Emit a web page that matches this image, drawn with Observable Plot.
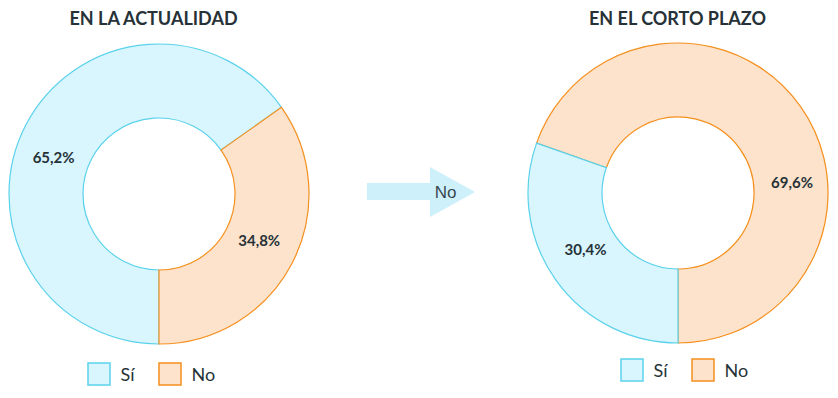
<!DOCTYPE html>
<html><head><meta charset="utf-8">
<script src="https://cdn.jsdelivr.net/npm/d3@7"></script>
<script src="https://cdn.jsdelivr.net/npm/@observablehq/plot@0.6"></script>
<style>body{margin:0;background:#fff}</style>
</head><body><div id="chart"></div>
<script>
// ---- data ----
const categories = ["Sí", "No"];
const titles = ["EN LA ACTUALIDAD", "EN EL CORTO PLAZO"];
const actualValues = [65.2, 34.8];
const cortoValues = [30.4, 69.6];
const arrowLabel = "No";

// ---- styles ----
const fillScale = Plot.scale({color: {type: "ordinal", domain: categories, range: ["#d9f5fd", "#fde3cb"]}});
const strokeScale = Plot.scale({color: {type: "ordinal", domain: categories, range: ["#5ad2ec", "#f5901f"]}});
const textColor = "#263238";

// ---- layout ----
const W = 838, H = 398, R_OUT = 150, R_IN = 76;
const charts = [
  {title: titles[0], values: actualValues, cx: 159, cy: 194, titleX: 153, legendX: 88, legendY: 363,
   labels: [[289, 112], [115, 110]]},
  {title: titles[1], values: cortoValues, cx: 678, cy: 193, titleX: 677, legendX: 621, legendY: 359,
   labels: [[238.5, 109], [85, 114]]}
];
const fmt = v => v.toFixed(1).replace(".", ",") + "%";

function donut(chart) {
  return (index, scales) => {
    const cx = scales.x(chart.cx), cy = scales.y(chart.cy);
    const ro = scales.x(chart.cx + R_OUT) - cx, ri = scales.x(chart.cx + R_IN) - cx;
    const pie = d3.pie().sort(null).startAngle(Math.PI).endAngle(3 * Math.PI)(chart.values)
      .map((d, i) => ({...d, cat: categories[i]}))
      .sort((a, b) => b.value - a.value); // larger slice drawn first
    const arc = d3.arc().innerRadius(ri).outerRadius(ro);
    const g = d3.create("svg:g").attr("transform", `translate(${cx},${cy})`);
    g.selectAll("path").data(pie).join("path")
      .attr("d", arc)
      .attr("fill", d => fillScale.apply(d.cat))
      .attr("stroke", d => strokeScale.apply(d.cat))
      .attr("stroke-width", 1.2);
    return g.node();
  };
}

function labelData(chart) {
  return chart.values.map((v, i) => {
    const [a, r] = chart.labels[i];
    const t = a * Math.PI / 180;
    return {x: chart.cx + r * Math.sin(t), y: chart.cy - r * Math.cos(t), text: fmt(v)};
  });
}

function legendData(chart) {
  return categories.map((c, i) => ({cat: c, x1: chart.legendX + i * 71, x2: chart.legendX + i * 71 + 22,
    y1: chart.legendY, y2: chart.legendY + 22}));
}

function arrowMark() {
  return (index, scales) => {
    const pts = [[367, 183], [430, 183], [430, 167], [475, 192], [430, 217], [430, 200], [367, 200]]
      .map(([x, y]) => [scales.x(x), scales.y(y)]);
    return d3.create("svg:path").attr("d", "M" + pts.join("L") + "Z").attr("fill", "#cdf0fb").node();
  };
}

const marks = [];
for (const ch of charts) {
  marks.push(donut(ch));
  marks.push(Plot.text(labelData(ch), {x: "x", y: "y", text: "text", fontSize: 15, fontWeight: 700, fill: textColor}));
  marks.push(Plot.text([ch.title], {x: ch.titleX, y: 19, text: d => d, fontSize: 18, fontWeight: 700, fill: textColor}));
  const leg = legendData(ch);
  leg.forEach(d => {
    marks.push(Plot.rect([d], {x1: "x1", x2: "x2", y1: "y1", y2: "y2", fill: fillScale.apply(d.cat), stroke: strokeScale.apply(d.cat), strokeWidth: 1.5}));
  });
  marks.push(Plot.text(leg, {x: d => d.x2 + 10, y: d => d.y1 + 11.5, text: "cat", textAnchor: "start", fontSize: 18, fill: textColor}));
}
marks.push(arrowMark());
marks.push(Plot.text([arrowLabel], {x: 445, y: 192, text: d => d, fontSize: 17, fill: "#37474f", fontFamily: "Liberation Sans, Arial, sans-serif"}));

const plot = Plot.plot({
  width: W, height: H, margin: 0,
  style: {fontFamily: "Lato, sans-serif", background: "#fff"},
  x: {domain: [0, W], range: [0, W], axis: null},
  y: {domain: [0, H], range: [0, H], axis: null},
  marks
});
document.getElementById("chart").appendChild(plot);
</script>
</body></html>
